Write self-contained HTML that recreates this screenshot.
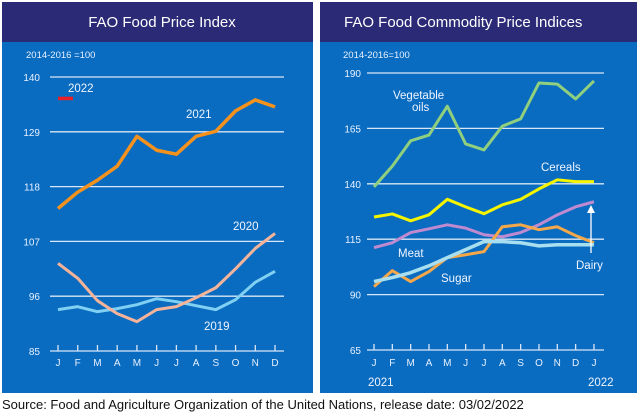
<!DOCTYPE html>
<html><head><meta charset="utf-8"><style>
body{margin:0;width:640px;height:416px;background:#fff;overflow:hidden;font-family:"Liberation Sans",sans-serif}
svg{display:block}
</style></head><body>
<svg id="c" width="640" height="416">
<rect x="0" y="0" width="640" height="416" fill="#fff"/>
<rect x="2" y="2" width="311" height="391" fill="#0a6cc0"/>
<rect x="2" y="2" width="311" height="40" fill="#2b2a76"/>
<text x="162" y="27" fill="#fff" font-size="15" text-anchor="middle">FAO Food Price Index</text>
<text x="26" y="58" fill="#e8f0ff" font-size="9.5">2014-2016 =100</text>
<rect x="320" y="2" width="317" height="391" fill="#0a6cc0"/>
<rect x="320" y="2" width="317" height="40" fill="#2b2a76"/>
<text x="344" y="27" fill="#fff" font-size="15">FAO Food Commodity Price Indices</text>
<text x="343" y="58" fill="#e8f0ff" font-size="9.5">2014-2016=100</text>
<text x="2" y="409" fill="#111" font-size="13">Source: Food and Agriculture Organization of the United Nations, release date: 03/02/2022</text>
<g id="L"></g><g id="R"></g>
</svg>
<script>
const monthsL=["J","F","M","A","M","J","J","A","S","O","N","D"];
const ticksL=[85,96,107,118,129,140];
const s2021=[113.6,116.9,119.3,122.1,128.1,125.3,124.5,128.1,129.1,133.2,135.4,134];
const s2020=[102.6,99.6,95.1,92.5,90.9,93.3,93.9,95.7,97.7,101.5,105.6,108.6];
const s2019=[93.3,93.9,92.9,93.5,94.3,95.5,94.9,94.1,93.3,95.3,98.8,101];
const s2022=[135.7];
const monthsR=["J","F","M","A","M","J","J","A","S","O","N","D","J"];
const ticksR=[65,90,115,140,165,190];
const vegOils=[138.6,148,159.4,162,175,158,155.3,166,169.3,185.5,185,178.3,186.4];
const cereals=[125,126.4,123.3,126,133,129.6,126.5,130.5,133,137.7,141.8,141,141];
const meat=[111.2,113.4,118,119.7,121.5,120,117,116.1,118,121.5,126,129.6,131.9];
const sugar=[93.6,100.8,95.9,100.4,106.7,108,109.4,120.6,121.5,119.3,120.6,116.6,113.4];
const dairy=[95.9,97.7,99.9,103,106.7,110.3,113.9,113.9,113.4,112,112.5,112.5,112.5];
const NS="http://www.w3.org/2000/svg";
function mk(t,a,p,txt){const e=document.createElementNS(NS,t);for(const k in a)e.setAttribute(k,a[k]);if(txt!==undefined)e.textContent=txt;p.appendChild(e);return e;}
// left
const L=document.getElementById('L');
const lx=i=>58+i*19.73, ly=v=>351-(v-85)*(274/55);
ticksL.forEach(t=>{
 const g=mk('line',{x1:50,x2:284,y1:ly(t),y2:ly(t),stroke:'#d8e6f5','stroke-width':1.3},L);
 
 const tx=mk('text',{x:40,y:ly(t)+4,fill:'#e8f0ff','font-size':10,'text-anchor':'end'},L,String(t));
 
});
monthsL.forEach((m,i)=>{
 const k=mk('line',{x1:lx(i),x2:lx(i),y1:ly(85)-6,y2:ly(85),stroke:'#d8e6f5','stroke-width':1.3},L);
 
 const t=mk('text',{x:lx(i),y:366,fill:'#e8f0ff','font-size':10,'text-anchor':'middle'},L,m);
 
});
function line(p,arr,fx,fy,col,w,name){const pts=arr.map((v,i)=>fx(i)+','+fy(v)).join(' ');
 const e=mk('polyline',{points:pts,fill:'none',stroke:col,'stroke-width':w,'stroke-linejoin':'round'},p);
 }
line(L,s2019,lx,ly,'#7fd0f2',3,'line-2019');
line(L,s2020,lx,ly,'#f5b49a',3,'line-2020');
line(L,s2021,lx,ly,'#f5921e',3.5,'line-2021');
const r22=mk('line',{x1:lx(0),x2:lx(0)+15,y1:ly(s2022[0]),y2:ly(s2022[0]),stroke:'#e8202a','stroke-width':3.5},L);

[["2022",68,92,'start'],["2021",186,118,'start'],["2020",233,230,'start'],["2019",204,330,'start']].forEach(a=>{
 const t=mk('text',{x:a[1],y:a[2],fill:'#f0f4ff','font-size':11.5,'text-anchor':a[3]},L,a[0]);
 });
// right
const R=document.getElementById('R');
const rx=i=>374+i*18.33, ry=v=>350-(v-65)*(277/125);
ticksR.forEach(t=>{
 const g=mk('line',{x1:367,x2:604,y1:ry(t),y2:ry(t),stroke:'#d8e6f5','stroke-width':1.3},R);
 
 const tx=mk('text',{x:361,y:ry(t)+4,fill:'#e8f0ff','font-size':10,'text-anchor':'end'},R,String(t));
 
});
monthsR.forEach((m,i)=>{
 const k=mk('line',{x1:rx(i),x2:rx(i),y1:ry(65)-6,y2:ry(65),stroke:'#d8e6f5','stroke-width':1.3},R);
 
 const t=mk('text',{x:rx(i),y:366,fill:'#e8f0ff','font-size':10,'text-anchor':'middle'},R,m);
 
});
line(R,vegOils,rx,ry,'#8fcf7e',3,'line-vegetable-oils');
line(R,cereals,rx,ry,'#f5f500',3,'line-cereals');
line(R,meat,rx,ry,'#c08ad0',3,'line-meat');
line(R,sugar,rx,ry,'#f5a84a',3,'line-sugar');
line(R,dairy,rx,ry,'#a8dff0',3.5,'line-dairy');
const ar=mk('line',{x1:591,x2:591,y1:253,y2:212,stroke:'#fff','stroke-width':1.3},R);

const ah=mk('polygon',{points:'587,213 595,213 591,205',fill:'#fff'},R);

[["Vegetable",393,99],["oils",412,111],["Cereals",541,171],["Meat",398,257],["Sugar",441,282],["Dairy",576,269],["2021",368,386],["2022",588,386]].forEach(a=>{
 const t=mk('text',{x:a[1],y:a[2],fill:'#f0f4ff','font-size':11.5},R,a[0]);
 });
</script>
</body></html>
